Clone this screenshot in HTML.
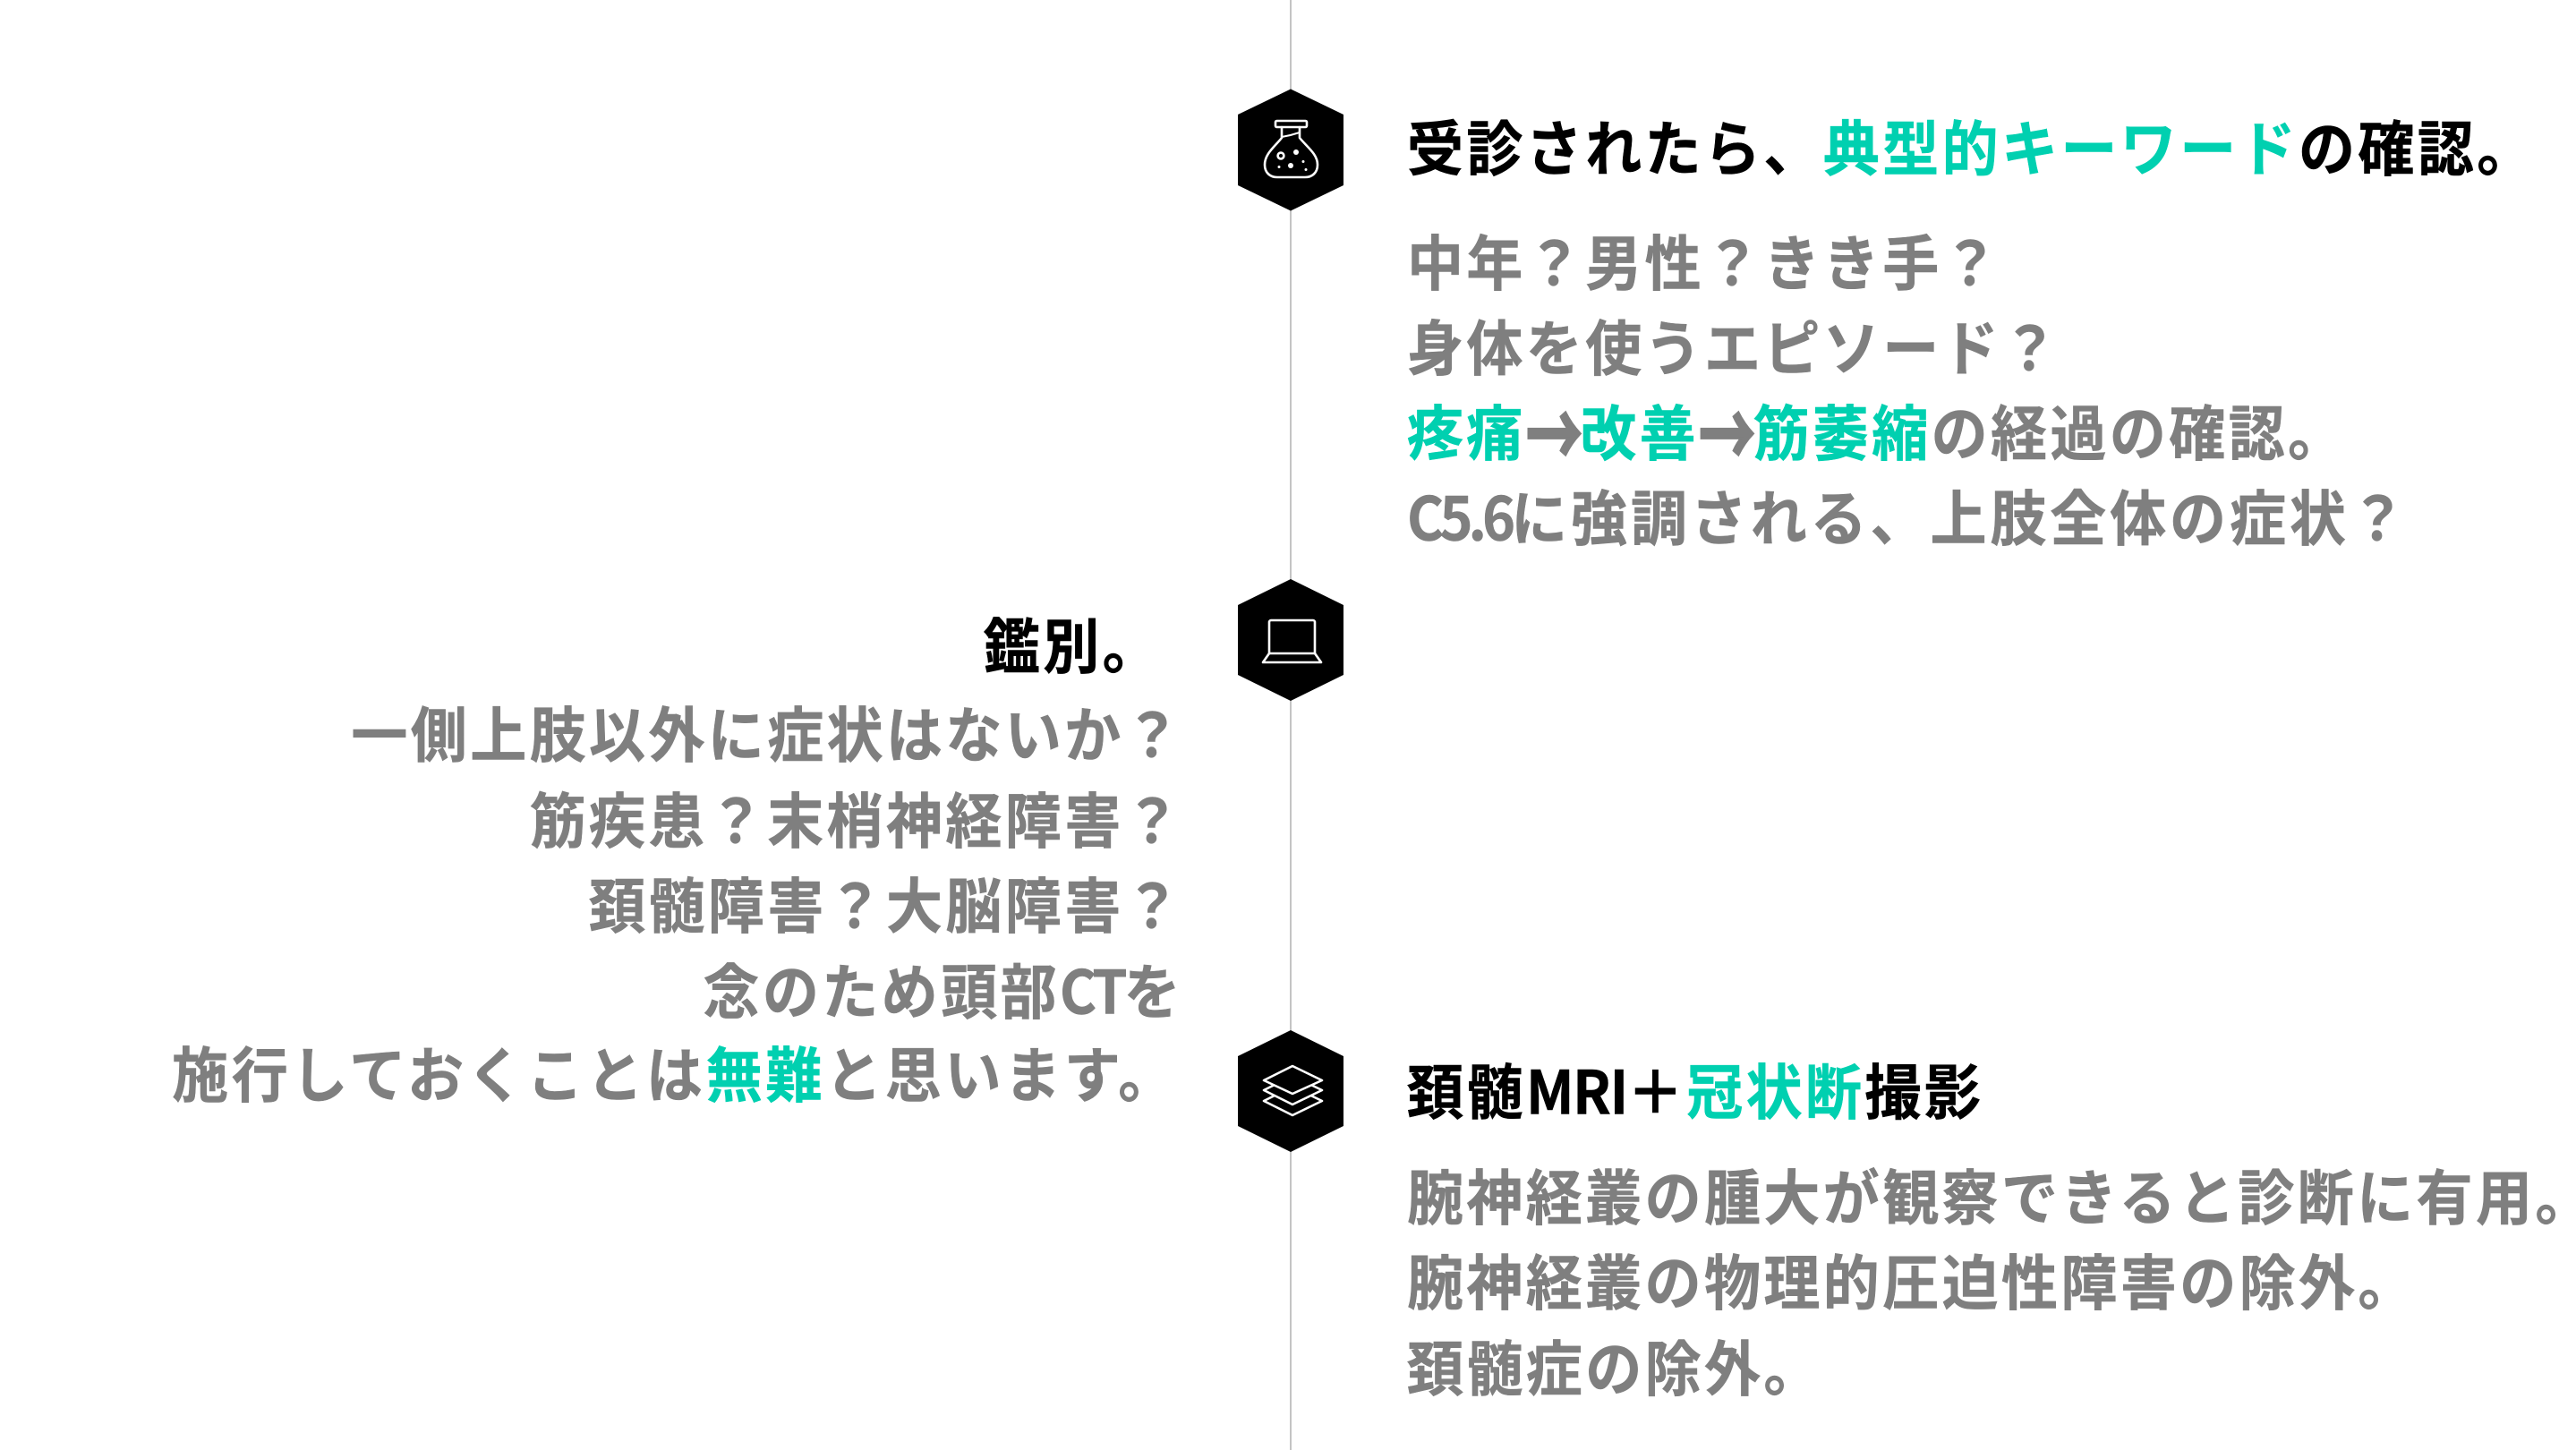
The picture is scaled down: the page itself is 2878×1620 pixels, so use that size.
<!DOCTYPE html>
<html lang="ja"><head><meta charset="utf-8"><style>
html,body{margin:0;padding:0;background:#fff}
body{width:2878px;height:1620px;position:relative;overflow:hidden;font-family:"Liberation Sans","Noto Sans CJK JP",sans-serif}
.t{position:absolute;white-space:nowrap;font-family:"Noto Sans CJK JP",sans-serif;font-weight:700;font-size:63px;letter-spacing:3.4px;line-height:96px;height:96px;color:#7f7f7f;-webkit-text-stroke:.5px currentColor;transform:scaleY(1.06)}
.k{color:#000}
.r{text-align:right;right:1556px}
.g{color:#00d0b0}
.n{letter-spacing:-5px}
.c{letter-spacing:-4px}
.m{letter-spacing:-1.500px}
.a{display:inline-block;-webkit-text-stroke:1.8px currentColor;transform:scaleY(1.5);margin-right:-6px}
svg{position:absolute;left:0;top:0}
</style></head><body>
<svg width="2878" height="1620" viewBox="0 0 2878 1620" fill="none">
<rect x="1441" y="0" width="2" height="1620" fill="#c4c4c4"/>
<polygon points="1442,99.5 1501,128 1501,207 1442,235.5 1383,207 1383,128" fill="#000"/>
<polygon points="1442,647 1501,676 1501,754 1442,783 1383,754 1383,676" fill="#000"/>
<polygon points="1442,1151 1501,1180 1501,1258 1442,1287 1383,1258 1383,1180" fill="#000"/>
<g stroke="#fff" stroke-width="2.6" stroke-linejoin="round" stroke-linecap="round">
<rect x="1425" y="135" width="35" height="7" rx="1.5"/>
<path d="M1432 142V154C1424 164 1413 172 1413 184C1413 193 1419 198 1427 198H1458C1466 198 1472 193 1472 184C1472 172 1460 164 1452 154V142"/>
<path d="M1432 153C1438 152 1446 150 1452 148" stroke-width="2"/>
<circle cx="1431" cy="174" r="3.4"/>
</g>
<g fill="#fff"><circle cx="1448" cy="170" r="3"/><circle cx="1442" cy="185" r="3"/><circle cx="1456" cy="180.500" r="1.500"/><circle cx="1459" cy="189.500" r="1.500"/><circle cx="1429" cy="186.500" r="1.500"/></g>
<g stroke="#fff" stroke-width="2.6" stroke-linejoin="round" stroke-linecap="round">
<path d="M1418 730V695C1418 694 1419 693 1420 693H1467C1468 693 1469 694 1469 695V730"/>
<path d="M1418 730H1469L1476 740H1411Z"/>
<polygon points="1444,1214 1477,1230 1444,1246 1412,1230" fill="#000"/>
<polygon points="1444,1202 1477,1218 1444,1234 1412,1218" fill="#000"/>
<polygon points="1444,1191 1477,1207 1444,1222 1412,1207" fill="#000"/>
</g>
</svg>

<div class="t k" style="left:1572px;top:115px">受診されたら、<span class="g">典型的キーワード</span>の確認。</div>
<div class="t" style="left:1572px;top:243px">中年？男性？きき手？</div>
<div class="t" style="left:1572px;top:338px">身体を使うエピソード？</div>
<div class="t" style="left:1572px;top:433px"><span class="g">疼痛</span><span class="a">→</span><span class="g">改善</span><span class="a">→</span><span class="g">筋萎縮</span>の経過の確認。</div>
<div class="t" style="left:1572px;top:528px;letter-spacing:3.9px"><span class="n">C5.6</span>に強調される、上肢全体の症状？</div>

<div class="t k r" style="top:671px;right:1580px">鑑別。</div>
<div class="t r" style="top:770px">一側上肢以外に症状はないか？</div>
<div class="t r" style="top:866px">筋疾患？末梢神経障害？</div>
<div class="t r" style="top:961px">頚髄障害？大脳障害？</div>
<div class="t r" style="top:1057px">念のため頭部<span class="c">CT</span>を</div>
<div class="t r" style="top:1150px;right:1562px;letter-spacing:3.7px">施行しておくことは<span class="g">無難</span>と思います。</div>

<div class="t k" style="left:1572px;top:1169px">頚髄<span class="m">MRI</span>＋<span class="g">冠状断</span>撮影</div>
<div class="t" style="left:1572px;top:1287px">腕神経叢の腫大が観察できると診断に有用。</div>
<div class="t" style="left:1572px;top:1382px">腕神経叢の物理的圧迫性障害の除外。</div>
<div class="t" style="left:1572px;top:1478px">頚髄症の除外。</div>
</body></html>
